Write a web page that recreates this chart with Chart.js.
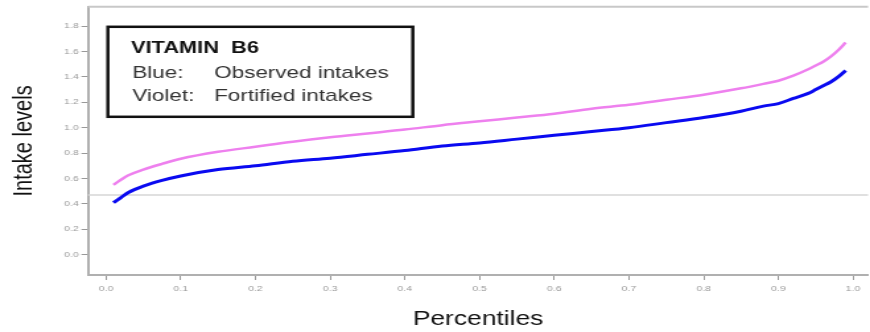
<!DOCTYPE html>
<html>
<head>
<meta charset="utf-8">
<title>Vitamin B6 intake percentiles</title>
<script src="https://cdn.jsdelivr.net/npm/chart.js@4.4.0/dist/chart.umd.min.js"></script>
<style>
  html, body { margin: 0; padding: 0; background: #fff; overflow: hidden; }
  /* the plot is drawn narrow and widened horizontally, like the printed figure */
  #wrap { position: relative; width: 659px; height: 332px; transform: scaleX(1.3202); transform-origin: 0 0; }
</style>
</head>
<body>
<div id="wrap"><canvas id="chart"></canvas></div>
<script>
// percentile positions of the intake distribution
const percentiles = [0.01, 0.02, 0.03, 0.05, 0.075, 0.10, 0.15, 0.20, 0.25, 0.30, 0.35, 0.40, 0.45, 0.50, 0.55,
                     0.60, 0.65, 0.70, 0.75, 0.80, 0.85, 0.88, 0.90, 0.92, 0.94, 0.95, 0.96, 0.97, 0.98, 0.99];
// observed intakes (blue)
const observedIntakes = [0.41, 0.45, 0.49, 0.54, 0.585, 0.62, 0.67, 0.70, 0.735, 0.76, 0.79, 0.82, 0.855, 0.88, 0.91,
                         0.94, 0.97, 1.00, 1.04, 1.08, 1.13, 1.17, 1.19, 1.23, 1.27, 1.30, 1.33, 1.36, 1.40, 1.45];
// fortified intakes (violet)
const fortifiedIntakes = [0.55, 0.59, 0.625, 0.67, 0.715, 0.755, 0.81, 0.85, 0.89, 0.925, 0.955, 0.985, 1.02, 1.05, 1.08,
                          1.11, 1.15, 1.18, 1.22, 1.26, 1.31, 1.345, 1.37, 1.41, 1.46, 1.49, 1.52, 1.56, 1.61, 1.67];

const xTickValues = [0, 0.1, 0.2, 0.3, 0.4, 0.5, 0.6, 0.7, 0.8, 0.9, 1.0];
const yTickValues = [0, 0.2, 0.4, 0.6, 0.8, 1.0, 1.2, 1.4, 1.6, 1.8];
const referenceLevel = 0.47;

const boxTitle = 'VITAMIN  B6';
const boxRows = [['Blue:', 'Observed intakes'], ['Violet:', 'Fortified intakes']];

const toPoints = values => values.map((v, i) => ({ x: percentiles[i], y: v }));

// frame line on top, reference line and the boxed key
const decorations = {
  id: 'decorations',
  beforeDatasetsDraw(chart) {
    const { ctx, chartArea: a, scales: { y } } = chart;
    ctx.save();
    ctx.strokeStyle = '#c8c8c8';
    ctx.lineWidth = 2;
    ctx.beginPath();
    ctx.moveTo(a.left, a.top);
    ctx.lineTo(a.right, a.top);
    ctx.stroke();

    const ry = y.getPixelForValue(referenceLevel);
    ctx.strokeStyle = '#d6d6d6';
    ctx.lineWidth = 1.5;
    ctx.beginPath();
    ctx.moveTo(a.left, ry);
    ctx.lineTo(a.right, ry);
    ctx.stroke();
    ctx.restore();
  },
  afterDatasetsDraw(chart) {
    const { ctx, chartArea: a } = chart;
    const bx = a.left + 15, by = a.top + 20, bw = 231, bh = 90;
    ctx.save();
    ctx.fillStyle = '#fff';
    ctx.fillRect(bx, by, bw, bh);
    ctx.strokeStyle = '#111';
    ctx.lineWidth = 2.5;
    ctx.strokeRect(bx, by, bw, bh);

    ctx.textBaseline = 'alphabetic';
    ctx.fillStyle = '#111';
    ctx.font = 'bold 16.5px "Liberation Sans", Arial, sans-serif';
    ctx.fillText(boxTitle, bx + 17.5, by + 26);

    ctx.fillStyle = '#333';
    ctx.font = '17px "Liberation Sans", Arial, sans-serif';
    boxRows.forEach((row, i) => {
      const ty = by + 51 + i * 23.5;
      ctx.fillText(row[0], bx + 18.5, ty);
      ctx.fillText(row[1], bx + 80.5, ty);
    });
    ctx.restore();
  }
};

new Chart(document.getElementById('chart'), {
  type: 'line',
  data: {
    datasets: [
      {
        label: 'Fortified intakes',
        data: toPoints(fortifiedIntakes),
        borderColor: '#ee80ee',
        borderWidth: 2.5,
        pointRadius: 0,
        cubicInterpolationMode: 'monotone',
        fill: false
      },
      {
        label: 'Observed intakes',
        data: toPoints(observedIntakes),
        borderColor: '#0a0af0',
        borderWidth: 3,
        pointRadius: 0,
        cubicInterpolationMode: 'monotone',
        fill: false
      }
    ]
  },
  options: {
    responsive: true,
    maintainAspectRatio: false,
    animation: false,
    layout: { padding: 0 },
    plugins: {
      legend: { display: false },
      tooltip: { enabled: false }
    },
    scales: {
      x: {
        type: 'linear',
        min: -0.024,
        max: 1.02,
        afterBuildTicks: axis => { axis.ticks = xTickValues.map(v => ({ value: v })); },
        afterFit: axis => { axis.height = 57; },
        border: { display: true, color: '#b0b0b0', width: 2 },
        grid: { drawOnChartArea: false, drawTicks: true, tickLength: 5, color: '#999', lineWidth: 1 },
        ticks: {
          autoSkip: false,
          maxRotation: 0,
          padding: 4,
          color: '#999',
          font: { size: 8, family: '"Liberation Sans", Arial, sans-serif' },
          callback: v => Number(v).toFixed(1)
        },
        title: {
          display: true,
          text: 'Percentiles',
          color: '#111',
          padding: { top: 0, bottom: 1 },
          font: { size: 20, family: '"Liberation Sans", Arial, sans-serif' }
        }
      },
      y: {
        type: 'linear',
        min: -0.16,
        max: 1.952,
        afterBuildTicks: axis => { axis.ticks = yTickValues.map(v => ({ value: v })); },
        afterFit: axis => { axis.width = 66.7; },
        border: { display: true, color: '#b0b0b0', width: 2 },
        grid: { drawOnChartArea: false, drawTicks: true, tickLength: 5, color: '#999', lineWidth: 1 },
        ticks: {
          autoSkip: false,
          padding: 2,
          color: '#999',
          font: { size: 8, family: '"Liberation Sans", Arial, sans-serif' },
          callback: v => Number(v).toFixed(1)
        },
        title: {
          display: true,
          text: 'Intake levels',
          color: '#111',
          padding: { top: 6, bottom: 0 },
          font: { size: 20, family: '"Liberation Sans", Arial, sans-serif' }
        }
      }
    }
  },
  plugins: [decorations]
});
</script>
</body>
</html>
